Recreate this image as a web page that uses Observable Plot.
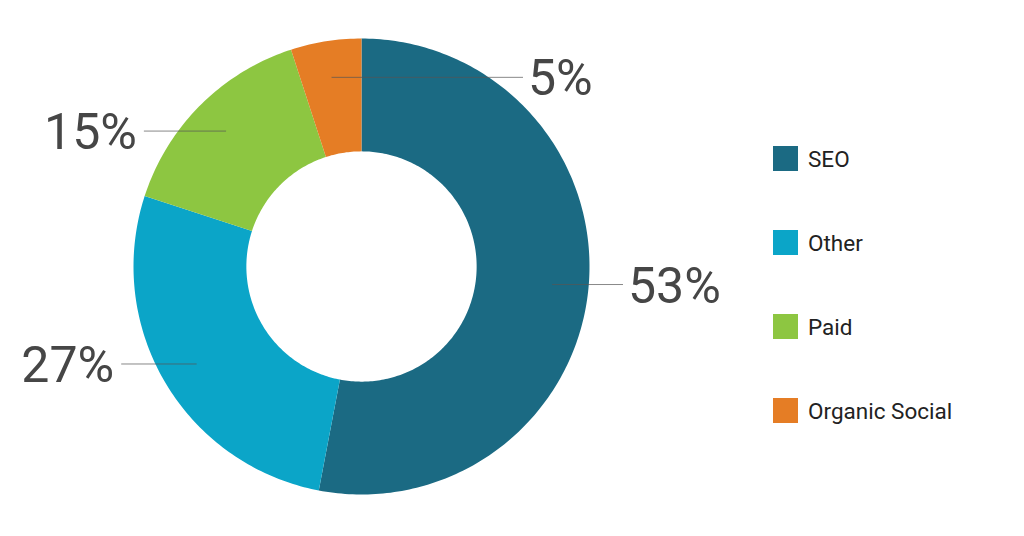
<!DOCTYPE html>
<html>
<head>
<meta charset="utf-8">
<script src="https://cdn.jsdelivr.net/npm/d3@7"></script>
<script src="https://cdn.jsdelivr.net/npm/@observablehq/plot@0.6"></script>
<style>
  body { margin: 0; background: #fff; font-family: Roboto, sans-serif; }
  #wrap { position: relative; width: 1024px; height: 536px; }
  #legend { position: absolute; left: 773px; top: 146px; }
  .item { display: flex; align-items: center; height: 25px; margin-bottom: 59px; }
  .sw { width: 25px; height: 25px; margin-right: 10px; }
  .item span { font-size: 22.5px; color: #222; }
</style>
</head>
<body>
<div id="wrap">
  <div id="chart"></div>
  <div id="legend"></div>
</div>
<script>
const categories = ["SEO", "Other", "Paid", "Organic Social"];
const shares = [53, 27, 15, 5];
const colors = ["#1b6a83", "#0ba5c8", "#8dc641", "#e57d25"];

// donut geometry (unit radius = outer edge)
const inner = 0.505;
const cx = 361, cy = 266, R = 228; // where the ring sits on the page
const W = 1024, H = 536;

let total = d3.sum(shares);
let start = 0;
let slices = categories.map((c, i) => {
  const a0 = start / total * 2 * Math.PI;
  start += shares[i];
  const a1 = start / total * 2 * Math.PI;
  return { name: c, value: shares[i], a0, a1, mid: (a0 + a1) / 2 };
});

// polygon points for each arc (angle from 12 o'clock, clockwise)
let pts = [];
slices.forEach(s => {
  const n = Math.max(8, Math.ceil((s.a1 - s.a0) * 60));
  for (let k = 0; k <= n; k++) {
    const a = s.a0 + (s.a1 - s.a0) * k / n;
    pts.push({ name: s.name, x: Math.sin(a), y: Math.cos(a) });
  }
  for (let k = n; k >= 0; k--) {
    const a = s.a0 + (s.a1 - s.a0) * k / n;
    pts.push({ name: s.name, x: inner * Math.sin(a), y: inner * Math.cos(a) });
  }
});

// leader lines: horizontal, from inside the ring to just past its edge
// slices near 12 o'clock get their label on the right, across the ring
let leaders = slices.map(s => {
  const r = 0.84;
  const x0 = r * Math.sin(s.mid), y0 = r * Math.cos(s.mid);
  const side = (s.mid < Math.PI || s.mid > 1.9 * Math.PI) ? 1 : -1;
  const x1 = side * (Math.sqrt(1 - y0 * y0) + 0.15);
  return { ...s, x0, y0, x1, side, label: s.value + "%" };
});

const txt = { x: "x1", y: "y0", text: "label", dy: 2, fontSize: 50, fill: "#464646", fontFamily: "Roboto" };

let chart = Plot.plot({
  width: W,
  height: H,
  margin: 0,
  x: { domain: [-cx / R, (W - cx) / R], axis: null },
  y: { domain: [-(H - cy) / R, cy / R], axis: null },
  color: { domain: categories, range: colors },
  marks: [
    Plot.line(pts, { x: "x", y: "y", z: "name", fill: "name", stroke: null }),
    Plot.link(leaders, { x1: "x0", y1: "y0", x2: "x1", y2: "y0", stroke: "#555", strokeOpacity: 0.7, strokeWidth: 1 }),
    Plot.text(leaders.filter(d => d.side > 0), { ...txt, textAnchor: "start", dx: 5 }),
    Plot.text(leaders.filter(d => d.side < 0), { ...txt, textAnchor: "end", dx: -7 })
  ]
});

d3.select('#chart').append(() => chart);

// legend, stacked on the right
const legend = d3.select('#legend');
categories.forEach((c, i) => {
  const item = legend.append('div').attr('class', 'item');
  item.append('div').attr('class', 'sw').style('background', colors[i]);
  item.append('span').text(c);
});
</script>
</body>
</html>
